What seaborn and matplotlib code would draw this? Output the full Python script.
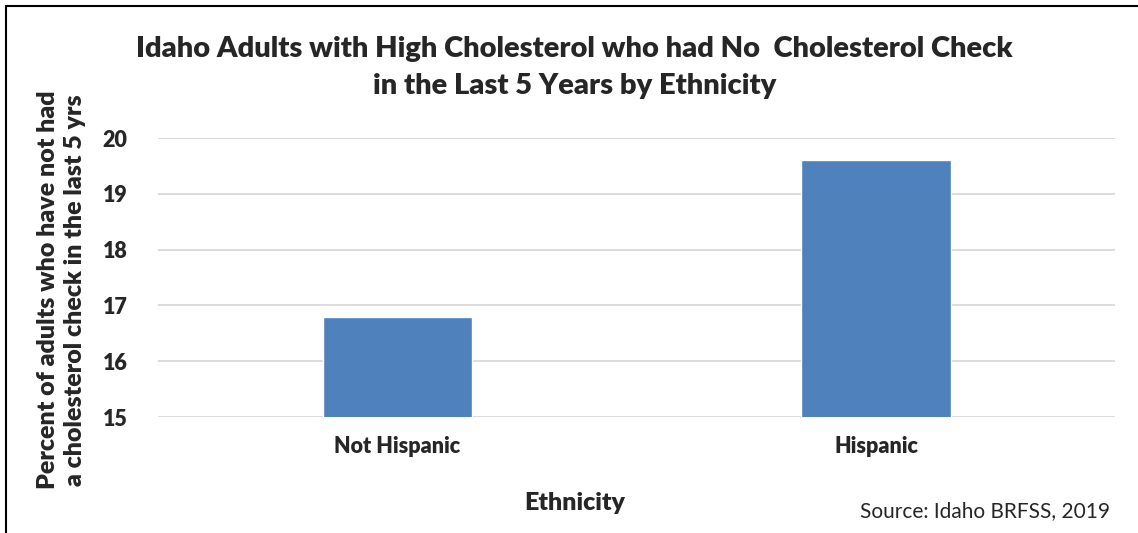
import pandas as pd
import matplotlib.pyplot as plt
import seaborn as sns
from matplotlib.lines import Line2D

ethnicity = ['Not Hispanic', 'Hispanic']
pct_no_check = [16.8, 19.6]
yticks = [15, 16, 17, 18, 19, 20]

sns.set_style('white')
plt.rcParams['font.family'] = ['Lato', 'DejaVu Sans']

df = pd.DataFrame({'Ethnicity': ethnicity, 'Percent': pct_no_check})

fig = plt.figure(figsize=(11.38, 5.33), dpi=100)
ax = fig.add_axes([0.139, 0.2176, 0.841, 0.5234])

sns.barplot(data=df, x='Ethnicity', y='Percent', color='#4F81BD',
            width=0.313, saturation=1, ax=ax, zorder=3)

ax.set_ylim(15, 20)
ax.set_xlim(-0.5, 1.5)
ax.set_yticks(yticks)
ax.yaxis.grid(True, color='#D9D9D9', linewidth=1.3, zorder=0)
ax.set_axisbelow(True)
for s in ax.spines.values():
    s.set_visible(False)
ax.tick_params(axis='both', length=0, labelsize=15.5)
ax.tick_params(axis='y', pad=22)
ax.tick_params(axis='x', pad=14)
for lab in ax.get_xticklabels() + ax.get_yticklabels():
    lab.set_fontweight('heavy')

ax.set_xlabel('')
ax.set_ylabel('')
fig.text(0.505, 0.057, 'Ethnicity', ha='center', va='center', fontsize=18, fontweight='heavy')
fig.text(0.054, 0.456, 'Percent of adults who have not had\na cholesterol check in the last 5 yrs',
         ha='center', va='center', rotation=90, fontsize=18, fontweight='heavy', linespacing=1.25)

fig.text(0.505, 0.873, 'Idaho Adults with High Cholesterol who had No  Cholesterol Check\nin the Last 5 Years by Ethnicity',
         ha='center', va='center', fontsize=21, fontweight='heavy', linespacing=1.55)
fig.text(0.975, 0.022, 'Source: Idaho BRFSS, 2019', ha='right', va='bottom', fontsize=15)

# chart frame: top and left edges only
fig.add_artist(Line2D([0.005, 1.0], [0.988, 0.988], transform=fig.transFigure,
                      color='black', linewidth=1.5))
fig.add_artist(Line2D([0.005, 0.005], [0.0, 0.988], transform=fig.transFigure,
                      color='black', linewidth=1.5))

fig.savefig('out.png', dpi=100)
